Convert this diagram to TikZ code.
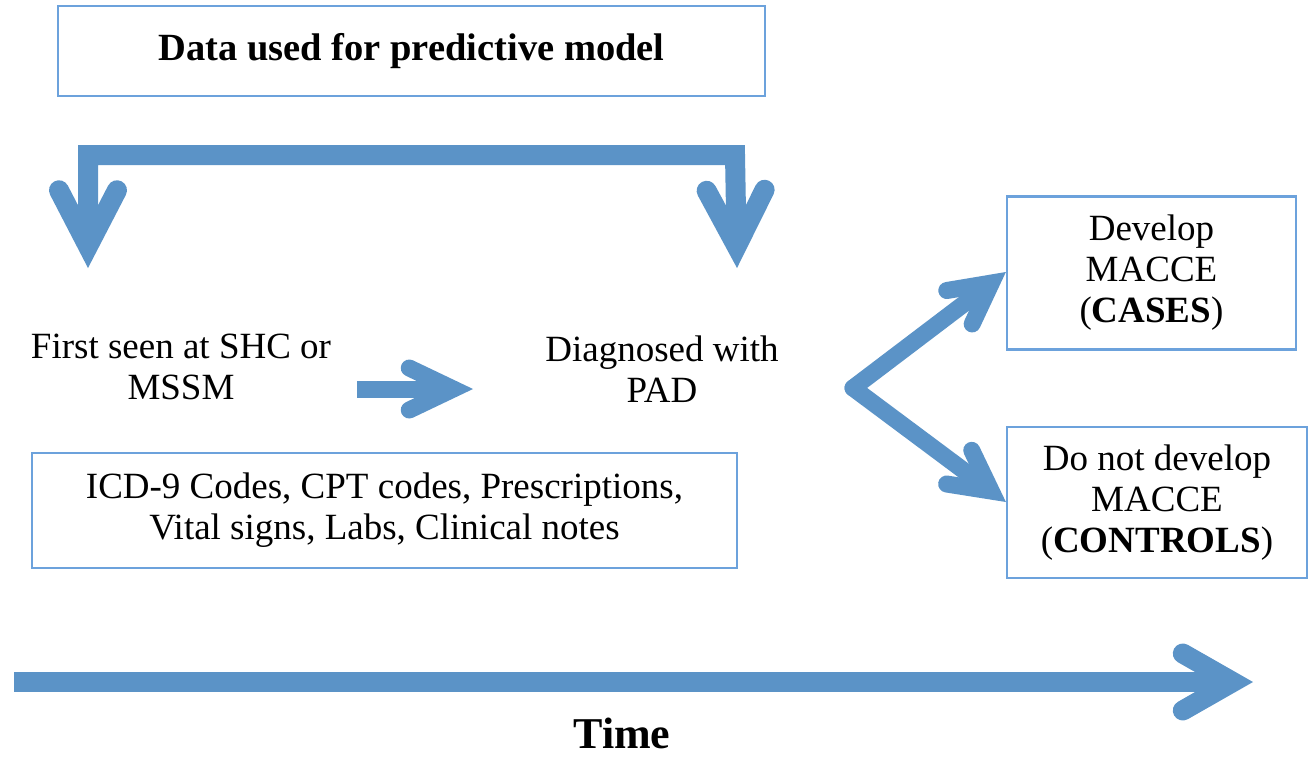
\documentclass[tikz,border=0pt]{standalone}
\usepackage{fontspec}
\setmainfont{Liberation Serif}
\usetikzlibrary{arrows.meta}
\definecolor{arrowblue}{RGB}{91,147,199}
\definecolor{frameblue}{RGB}{108,162,220}
\newcommand{\txtfont}{\fontsize{37}{41}\selectfont}
\tikzset{
  frame/.style={rectangle, draw=frameblue, line width=2.2pt, inner sep=0pt,
    align=center, font=\txtfont},
  event/.style={align=center, font=\txtfont},
  flow/.style={draw=arrowblue, line width=#1},
  flow/.default=17pt,
  barb/.style 2 args={-{Straight Barb[length=#1,width=#2,line cap=round,line join=miter]}},
}

\begin{document}
\begin{tikzpicture}[x=1pt,y=-1pt]
\useasboundingbox (0,0) rectangle (1313,758);

% ===================== BOXES AND EVENTS =====================
\node[frame, minimum width=707pt, minimum height=90pt] (model) at (411.5,51)
  {\bfseries\fontsize{38.5}{42}\selectfont Data used for predictive model};
\node[event] (first) at (181,367) {First seen at SHC or\\MSSM};
\node[event] (pad) at (662,369) {Diagnosed with\\PAD};
\node[frame, minimum width=705pt, minimum height=115pt] (data) at (384.5,510.5)
  {ICD-9 Codes, CPT codes, Prescriptions,\\Vital signs, Labs, Clinical notes};
\node[frame, minimum width=289pt, minimum height=153pt] (cases) at (1151.5,273)
  {Develop\\MACCE\\(\textbf{CASES})};
\node[frame, minimum width=300pt, minimum height=151pt] (controls) at (1157,502.5)
  {Do not develop\\MACCE\\(\textbf{CONTROLS})};
\node[font=\bfseries\fontsize{44}{48}\selectfont] (time) at (622,733) {Time};

% ===================== ARROWS =====================
\coordinate (tipL) at (88,268);
\coordinate (tipR) at (737,268);
\coordinate (go) at (357,389);
\coordinate (stop) at (473,389);
\coordinate (split) at (853,388);

% bracket under the model box
\draw[flow=20pt, line join=miter,
  {Straight Barb[length=56pt,width=58pt,line cap=round,line join=miter]}-{Straight Barb[length=56pt,width=58pt,line cap=round,line join=miter]}]
  (tipL) -- (88,155) -- (735,155) -- (tipR);

% first seen -> diagnosed
\draw[flow, barb={44pt}{42pt}] (go) -- (stop);

% split into cases / controls
\draw[flow, line cap=round, barb={40pt}{42pt}] (split) -- (cases.west |- 0,272);
\draw[flow, line cap=round, barb={40pt}{42pt}] (split) -- (controls.west |- 0,502);

% time line
\coordinate (t0) at (14,682);
\coordinate (t1) at (1253,682);
\draw[flow=20pt, barb={50pt}{57pt}] (t0) -- (t1);

\end{tikzpicture}
\end{document}
